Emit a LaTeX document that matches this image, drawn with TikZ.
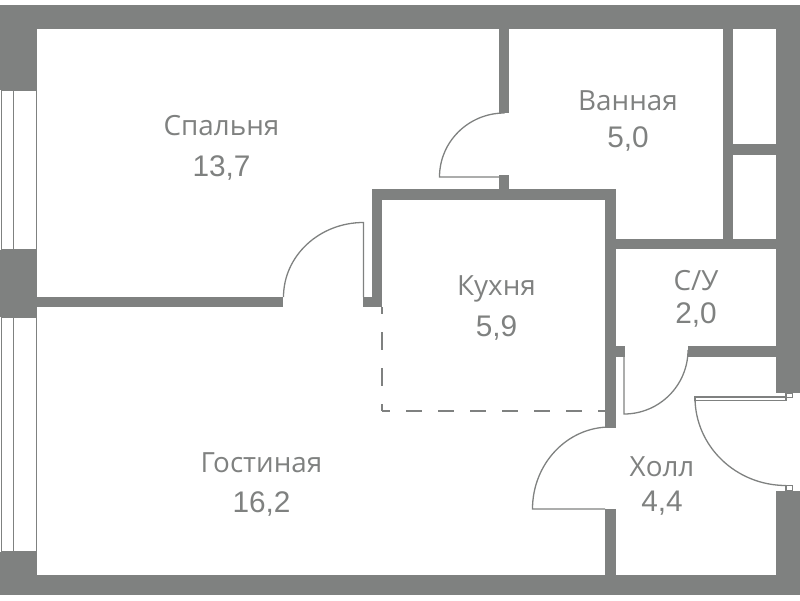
\documentclass[tikz,border=0pt]{standalone}
\usepackage{fontspec}
\setmainfont{Open Sans}
\newfontfamily\digitfont{Liberation Sans}
\definecolor{wallgray}{HTML}{7F8180}
\tikzset{wall/.style={fill=wallgray}}
\tikzset{doorline/.style={draw=wallgray, line width=1.3pt}}
\tikzset{thinline/.style={draw=wallgray, line width=1.2pt}}
\tikzset{roomlabel/.style={text=wallgray, font=\fontsize{27.8}{28}\selectfont, inner sep=0pt, anchor=base}}
\tikzset{roomarea/.style={text=wallgray, font=\digitfont\fontsize{29.8}{30}\selectfont, inner sep=0pt, anchor=base}}
\begin{document}
\begin{tikzpicture}[x=1pt, y=-1pt]

\useasboundingbox (0, 0) rectangle (800, 600);

\fill[wall] (0, 5) rectangle (800, 29);
\fill[wall] (0, 575) rectangle (800, 595);
\fill[wall] (0, 5) rectangle (37, 90);
\fill[wall] (0, 250) rectangle (37, 317);
\fill[wall] (0, 552) rectangle (37, 595);
\fill[wall] (776, 5) rectangle (800, 393);
\fill[wall] (776, 491) rectangle (800, 595);

\fill[wall] (37, 297) rectangle (283, 307);
\fill[wall] (363, 297) rectangle (382, 307);
\fill[wall] (372, 189) rectangle (382, 307);
\fill[wall] (372, 189) rectangle (616, 200);
\fill[wall] (605, 189) rectangle (616, 428);
\fill[wall] (605, 509) rectangle (616, 575);
\fill[wall] (499, 29) rectangle (509, 113);
\fill[wall] (499, 175) rectangle (509, 189);
\fill[wall] (723, 29) rectangle (733, 249);
\fill[wall] (733, 144) rectangle (776, 155);
\fill[wall] (616, 239) rectangle (776, 249);
\fill[wall] (605, 346) rectangle (625, 357);
\fill[wall] (688, 346) rectangle (776, 357);

\draw[thinline] (1.5, 90) rectangle (36.5, 250);
\draw[thinline] (13.5, 90) -- (13.5, 250);
\draw[thinline] (1.5, 317) rectangle (36.5, 552);
\draw[thinline] (13.5, 317) -- (13.5, 552);

\draw[doorline] (363.5, 297) -- (363.5, 222.5) arc[start angle=270, end angle=180, x radius=80, y radius=74.5];
\draw[doorline] (505, 177) -- (439.5, 177) arc[start angle=180, end angle=270, x radius=65, y radius=64];
\draw[doorline] (624, 357) -- (624, 414) arc[start angle=90, end angle=0, x radius=64, y radius=64];
\draw[doorline] (605, 509) -- (532.5, 509) arc[start angle=180, end angle=270, x radius=77.5, y radius=82];
\draw[doorline] (786, 485.5) arc[start angle=90, end angle=180, x radius=91, y radius=88];

\draw[thinline] (695, 397) rectangle (786, 400.5);
\draw[thinline] (786, 393) rectangle (792.5, 397.5);
\draw[thinline] (786, 485.5) rectangle (792.5, 491);

\draw[thinline, dash pattern=on 18pt off 18pt, dash phase=11pt] (382, 307) -- (382, 411);
\draw[thinline, dash pattern=on 16pt off 16pt, dash phase=8pt] (382, 411) -- (605, 411);

\node[roomlabel] (bedroom) at (221.5, 135) {Спальня};
\node[roomarea] (bedroomarea) at (221.5, 176.5) {13,7};
\node[roomlabel] (bath) at (628, 110) {Ванная};
\node[roomarea] (batharea) at (628, 147) {5,0};
\node[roomlabel] (kitchen) at (496.5, 295) {Кухня};
\node[roomarea] (kitchenarea) at (496.5, 336) {5,9};
\node[roomlabel] (wc) at (696, 290) {С/У};
\node[roomarea] (wcarea) at (696, 323) {2,0};
\node[roomlabel] (livingroom) at (261.5, 472) {Гостиная};
\node[roomarea] (livingroomarea) at (261.5, 512) {16,2};
\node[roomlabel] (hall) at (662, 476) {Холл};
\node[roomarea] (hallarea) at (662, 511) {4,4};

\end{tikzpicture}
\end{document}
